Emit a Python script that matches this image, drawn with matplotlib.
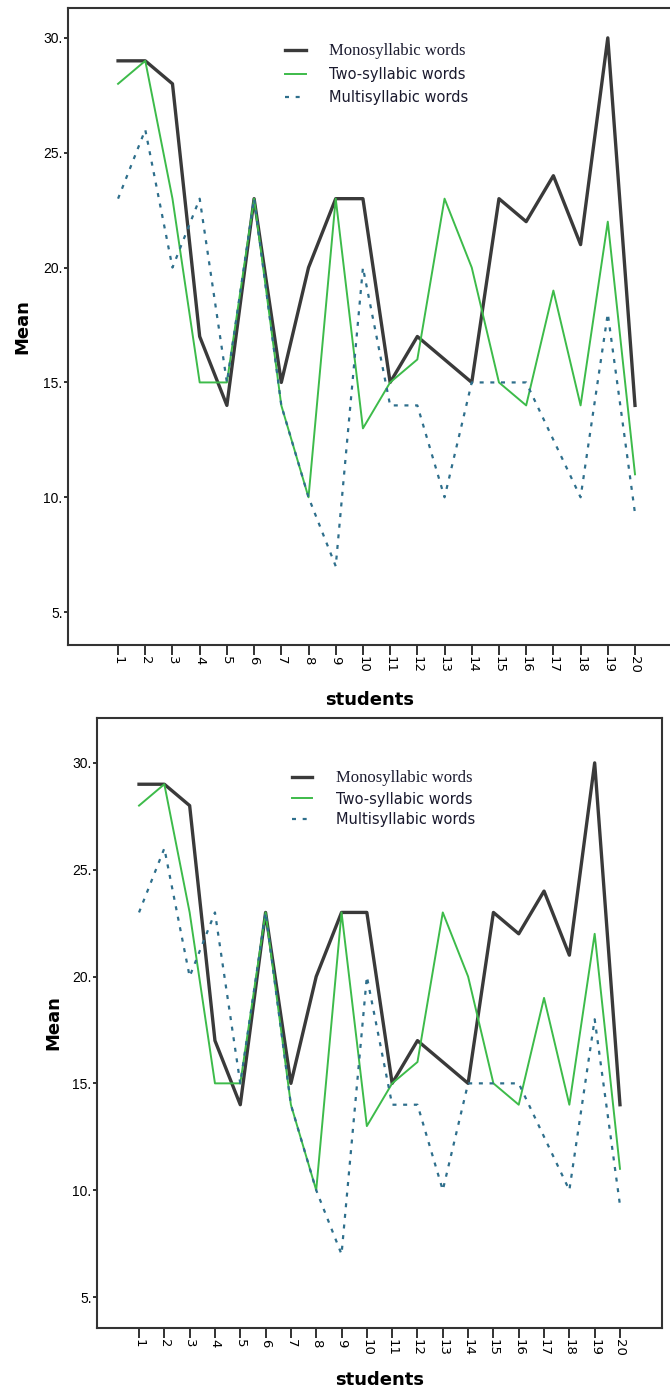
import numpy as np
import matplotlib.pyplot as plt

# data
students = np.arange(1, 21)
tick_labels = [str(s) for s in students]
mono = [29, 29, 28, 17, 14, 23, 15, 20, 23, 23, 15, 17, 16, 15, 23, 22, 24, 21, 30, 14]
two = [28, 29, 23, 15, 15, 23, 14, 10, 23, 13, 15, 16, 23, 20, 15, 14, 19, 14, 22, 11]
multi = [23, 26, 20, 23, 15, 23, 14, 10, 7, 20, 14, 14, 10, 15, 15, 15, 12.5, 10, 18, 9.3]
yticks = [5, 10, 15, 20, 25, 30]
ytick_labels = ['5.', '10.', '15.', '20.', '25.', '30.']

W, H = 670, 1391
fig = plt.figure(figsize=(W / 100, H / 100), dpi=100)


def panel(box, xlim, ylim, leg_anchor, leg_space, mean_x, stud_y):
    l, t, r, b = box
    ax = fig.add_axes([l / W, 1 - b / H, (r - l) / W, (b - t) / H])
    ax.plot(students, mono, color='#3a3a3a', lw=2.4, label='Monosyllabic words')
    ax.plot(students, two, color='#3dbb4a', lw=1.4, label='Two-syllabic words')
    ax.plot(students, multi, color='#2e6f8c', lw=1.6, ls=(0, (1.8, 3.0)),
            label='Multisyllabic words')
    ax.set_xlim(*xlim)
    ax.set_ylim(*ylim)
    ax.set_xticks(students)
    ax.set_xticklabels(tick_labels, rotation=-90, fontsize=9.5, family='DejaVu Sans')
    ax.set_yticks(yticks)
    ax.set_yticklabels(ytick_labels, fontsize=10, family='Liberation Sans')
    ax.tick_params(axis='x', length=7, width=1.3, pad=1, color='#222222')
    ax.tick_params(axis='y', length=3, width=1.3, pad=1, color='#222222')
    for s in ax.spines.values():
        s.set_linewidth(1.5)
        s.set_color('#333333')
    leg = ax.legend(loc='upper left', bbox_to_anchor=leg_anchor, frameon=False,
                    borderpad=0, borderaxespad=0, handlelength=1.4,
                    handletextpad=1.6, labelspacing=leg_space, fontsize=10.5)
    txts = leg.get_texts()
    txts[0].set_family('Liberation Serif')
    txts[0].set_fontsize(12)
    for tx in txts:
        tx.set_color('#1a1a2e')
    fig.text(mean_x / W, 1 - (t + b) / 2 / H, 'Mean', rotation=90, fontsize=13,
             fontweight='bold', ha='center', va='center')
    fig.text((l + r) / 2 / W, 1 - stud_y / H, 'students', fontsize=13,
             fontweight='bold', ha='center', va='center')
    return ax


panel((68, 8, 672, 645), (-0.84, 21.36), (3.57, 31.3), (0.36, 0.945), 0.55, 22, 700)
panel((97, 718, 662, 1328), (-0.66, 21.66), (3.55, 32.1), (0.345, 0.914), 0.35, 53, 1380)

fig.savefig('out.png', dpi=100)
